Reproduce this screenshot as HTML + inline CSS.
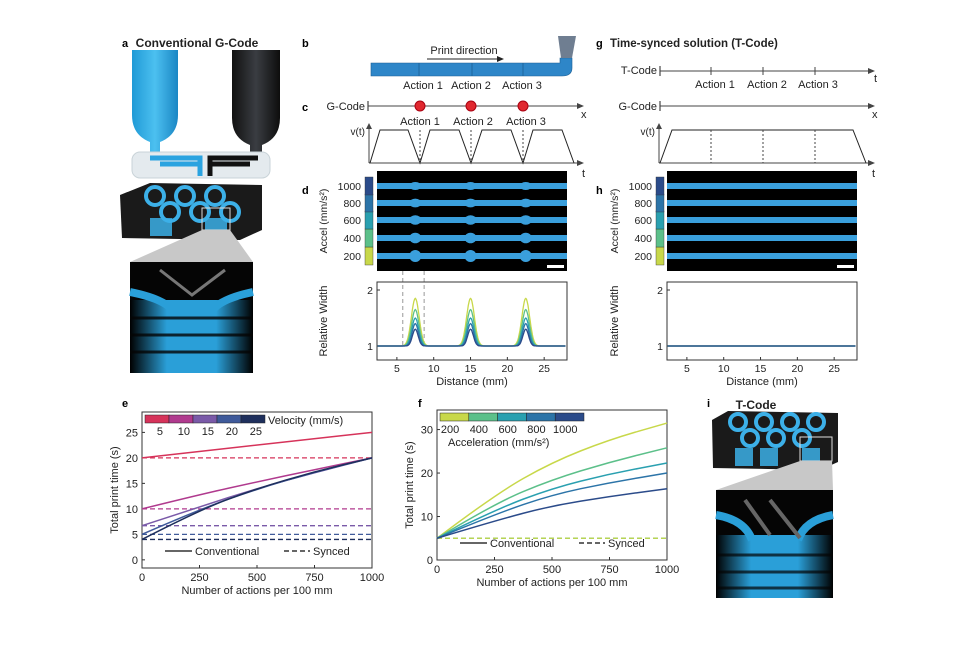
<!DOCTYPE html>
<html><head><meta charset="utf-8"><style>
html,body{margin:0;padding:0;background:#fff;}
svg{display:block;font-family:"Liberation Sans",Arial,sans-serif;}
</style></head><body>
<svg id="fig" width="980" height="654" viewBox="0 0 980 654" xmlns="http://www.w3.org/2000/svg">
<defs>
<linearGradient id="cyanG" x1="0" x2="1"><stop offset="0" stop-color="#1f9ad6"/><stop offset="0.5" stop-color="#4cc0f0"/><stop offset="1" stop-color="#1a86c4"/></linearGradient>
<linearGradient id="blkG" x1="0" x2="1"><stop offset="0" stop-color="#111"/><stop offset="0.5" stop-color="#3a3d42"/><stop offset="1" stop-color="#0d0d0d"/></linearGradient>
<linearGradient id="fadeB" x1="0" x2="1"><stop offset="0" stop-color="#000"/><stop offset="0.3" stop-color="#2a9fd8"/><stop offset="0.7" stop-color="#2a9fd8"/><stop offset="1" stop-color="#000"/></linearGradient>
</defs>

<!-- Panel a -->
<g>
<text x="122" y="47" font-size="11" font-weight="bold">a</text>
<text x="197" y="47" font-size="12" font-weight="bold" text-anchor="middle" fill="#222">Conventional G-Code</text>
<path d="M132 50 H178 V115 Q178 135 160 142 V152 H150 V142 Q132 135 132 115 Z" fill="url(#cyanG)"/>
<path d="M232 50 H280 V118 Q280 138 262 145 V155 H250 V145 Q232 138 232 118 Z" fill="url(#blkG)"/>
<rect x="132" y="152" width="138" height="26" rx="8" fill="#e4eaee" stroke="#c9d3d8"/>
<path d="M150 158 H200 V176 M160 164 H198" stroke="#2aa3e0" stroke-width="5" fill="none"/>
<path d="M258 158 H210 V176 M250 164 H212" stroke="#111" stroke-width="5" fill="none"/>
<g>
<path d="M120 195 L150 183 L262 185 L262 230 L240 240 L122 238 Z" fill="#1a1a1a"/>
<g fill="none" stroke="#3cb0e8" stroke-width="4">
<circle cx="155" cy="196" r="9"/><circle cx="185" cy="196" r="9"/><circle cx="215" cy="196" r="9"/>
<circle cx="170" cy="212" r="9"/><circle cx="200" cy="212" r="9"/><circle cx="230" cy="212" r="9"/>
</g>
<rect x="150" y="218" width="22" height="18" fill="#3cb0e8" opacity="0.85"/>
<rect x="205" y="218" width="22" height="18" fill="#3cb0e8" opacity="0.85"/>
<rect x="202" y="208" width="28" height="22" fill="none" stroke="#ddd" stroke-width="1"/>
</g>
<path d="M202 230 L130 262 H253 L230 230 Z" fill="#c8c8c8"/>
<g>
<rect x="130" y="262" width="123" height="111" fill="#050505"/>
<rect x="130" y="300" width="123" height="73" fill="url(#fadeB)"/>
<g stroke="#050505" stroke-width="3" opacity="0.8"><line x1="130" y1="318" x2="253" y2="318"/><line x1="130" y1="335" x2="253" y2="335"/><line x1="130" y1="352" x2="253" y2="352"/></g>
<path d="M130 292 Q170 300 175 315 M253 292 Q215 300 210 315" stroke="#2a9fd8" stroke-width="8" fill="none"/>
<path d="M160 270 L192 295 L225 270" stroke="#777" stroke-width="3" fill="none"/>
</g>
</g>

<!-- Panel b -->
<g>
<text x="302" y="47" font-size="11" font-weight="bold">b</text>
<text x="464" y="54" font-size="11" text-anchor="middle" fill="#222">Print direction</text>
<line x1="427" y1="59" x2="500" y2="59" stroke="#222"/><path d="M504 59 L497 56 L497 62 Z" fill="#222"/>
<path d="M371 63 H560 V58 H572 V68 Q572 76 562 76 H371 Z" fill="#2e86c8" stroke="#1c5e94" stroke-width="0.6"/>
<path d="M558 36 H576 L572 58 H561 Z" fill="#6f7e91"/>
<g stroke="#1c5e94" stroke-width="0.8"><line x1="419" y1="63" x2="419" y2="76"/><line x1="472" y1="63" x2="472" y2="76"/><line x1="523" y1="63" x2="523" y2="76"/></g>
<g font-size="11" text-anchor="middle" fill="#222"><text x="423" y="89">Action 1</text><text x="471" y="89">Action 2</text><text x="522" y="89">Action 3</text></g>
</g>

<!-- Panel c -->
<g>
<text x="302" y="111" font-size="11" font-weight="bold">c</text>
<text x="365" y="110" font-size="11" text-anchor="end" fill="#222">G-Code</text>
<line x1="368" y1="101" x2="368" y2="111" stroke="#222"/>
<line x1="368" y1="106" x2="580" y2="106" stroke="#444"/><path d="M584 106 L577 103 L577 109Z" fill="#444"/>
<text x="581" y="118" font-size="11" fill="#222">x</text>
<g fill="#e0282f" stroke="#a01"><circle cx="420" cy="106" r="5"/><circle cx="471" cy="106" r="5"/><circle cx="523" cy="106" r="5"/></g>
<g font-size="11" text-anchor="middle" fill="#222"><text x="420" y="125">Action 1</text><text x="473" y="125">Action 2</text><text x="526" y="125">Action 3</text></g>
<text x="365" y="135" font-size="10" text-anchor="end" fill="#222">v(t)</text>
<line x1="369" y1="163" x2="369" y2="126" stroke="#444"/><path d="M369 123 L366 129 L372 129Z" fill="#444"/>
<line x1="369" y1="163" x2="580" y2="163" stroke="#444"/><path d="M584 163 L577 160 L577 166Z" fill="#444"/>
<text x="582" y="177" font-size="11" fill="#222">t</text>
<path d="M370 163 L380 130 L408 130 L420 163 L430 130 L459 130 L471 163 L482 130 L511 130 L523 163 L533 130 L562 130 L574 163" stroke="#222" fill="none"/>
<g stroke="#444" stroke-dasharray="2,2"><line x1="420" y1="130" x2="420" y2="163"/><line x1="471" y1="130" x2="471" y2="163"/><line x1="523" y1="130" x2="523" y2="163"/></g>
</g>

<!-- Panel g -->
<g>
<text x="596" y="47" font-size="11" font-weight="bold">g</text>
<text x="610" y="47" font-size="11.5" font-weight="bold" fill="#222">Time-synced solution (T-Code)</text>
<text x="657" y="74" font-size="11" text-anchor="end" fill="#222">T-Code</text>
<line x1="660" y1="66" x2="660" y2="76" stroke="#222"/>
<line x1="660" y1="71" x2="871" y2="71" stroke="#444"/><path d="M875 71 L868 68 L868 74Z" fill="#444"/>
<text x="874" y="82" font-size="11" fill="#222">t</text>
<g stroke="#444"><line x1="711" y1="67" x2="711" y2="75"/><line x1="763" y1="67" x2="763" y2="75"/><line x1="815" y1="67" x2="815" y2="75"/></g>
<g font-size="11" text-anchor="middle" fill="#222"><text x="715" y="88">Action 1</text><text x="767" y="88">Action 2</text><text x="818" y="88">Action 3</text></g>
<text x="657" y="110" font-size="11" text-anchor="end" fill="#222">G-Code</text>
<line x1="660" y1="101" x2="660" y2="111" stroke="#222"/>
<line x1="660" y1="106" x2="871" y2="106" stroke="#444"/><path d="M875 106 L868 103 L868 109Z" fill="#444"/>
<text x="872" y="118" font-size="11" fill="#222">x</text>
<text x="655" y="135" font-size="10" text-anchor="end" fill="#222">v(t)</text>
<line x1="659" y1="163" x2="659" y2="126" stroke="#444"/><path d="M659 123 L656 129 L662 129Z" fill="#444"/>
<line x1="659" y1="163" x2="871" y2="163" stroke="#444"/><path d="M875 163 L868 160 L868 166Z" fill="#444"/>
<text x="872" y="177" font-size="11" fill="#222">t</text>
<path d="M660 163 L672 130 L853 130 L866 163" stroke="#222" fill="none"/>
<g stroke="#444" stroke-dasharray="2,2"><line x1="711" y1="130" x2="711" y2="163"/><line x1="763" y1="130" x2="763" y2="163"/><line x1="815" y1="130" x2="815" y2="163"/></g>
</g>

<text x="302" y="194" font-size="11" font-weight="bold">d</text>
<text x="596" y="194" font-size="11" font-weight="bold">h</text>
<g id="panelD"></g>
<g id="panelH"></g>

<!-- Panel i -->
<g>
<text x="707" y="407" font-size="11" font-weight="bold">i</text>
<text x="756" y="409" font-size="12" font-weight="bold" text-anchor="middle" fill="#222">T-Code</text>
<path d="M712 420 L728 411 L838 413 L838 462 L820 470 L713 468 Z" fill="#1a1a1a"/>
<g fill="none" stroke="#3cb0e8" stroke-width="4">
<circle cx="738" cy="422" r="8"/><circle cx="764" cy="422" r="8"/><circle cx="790" cy="422" r="8"/><circle cx="816" cy="422" r="8"/>
<circle cx="750" cy="438" r="8"/><circle cx="776" cy="438" r="8"/><circle cx="802" cy="438" r="8"/>
</g>
<rect x="735" y="448" width="18" height="18" fill="#3cb0e8" opacity="0.85"/>
<rect x="760" y="448" width="18" height="18" fill="#3cb0e8" opacity="0.85"/>
<rect x="802" y="448" width="18" height="18" fill="#3cb0e8" opacity="0.85"/>
<rect x="800" y="437" width="32" height="24" fill="none" stroke="#ddd"/>
<path d="M800 461 L716 490 H833 L832 461Z" fill="#c8c8c8"/>
<rect x="716" y="490" width="117" height="108" fill="#050505"/>
<rect x="716" y="535" width="117" height="63" fill="url(#fadeB)"/>
<g stroke="#050505" stroke-width="3" opacity="0.7"><line x1="716" y1="555" x2="833" y2="555"/><line x1="716" y1="572" x2="833" y2="572"/><line x1="716" y1="588" x2="833" y2="588"/></g>
<path d="M716 515 Q745 520 752 540 M833 515 Q805 520 798 540" stroke="#2a9fd8" stroke-width="8" fill="none"/>
<path d="M745 500 L770 535 M770 500 L800 538" stroke="#666" stroke-width="4" fill="none"/>
</g>

<text x="122" y="407" font-size="11" font-weight="bold">e</text>
<text x="418" y="407" font-size="11" font-weight="bold">f</text>
<g id="panelE"></g>
<g id="panelF"></g>
</svg>
<script>
// ---- data ----
const accelLevels = [200, 400, 600, 800, 1000];
const accelColors = ["#c8d84a", "#5cc08a", "#2aa0b0", "#2c74a8", "#2b4b8a"];
const peakHeights = [1.85, 1.65, 1.5, 1.4, 1.3];
const peakPositions = [7.5, 15, 22.5];
const distTicks = [5, 10, 15, 20, 25];
const widthTicks = [1, 2];

const velocities = [5, 10, 15, 20, 25];
const velColors = ["#d6335a", "#b03a8e", "#7a5aa8", "#3f5a9a", "#1e2f5c"];
const actionsX = [0, 250, 500, 750, 1000];
const velConvE = [[20, 21.3, 22.5, 23.8, 25], [10, 12.8, 15.3, 17.7, 20], [6.7, 10.4, 14, 17.1, 20], [5, 9.9, 13.9, 17.2, 20], [4, 9.8, 14, 17.3, 20]];
const velSynced = [20, 10, 6.7, 5, 4];
const eTicksX = [0, 250, 500, 750, 1000];
const eTicksY = [0, 5, 10, 15, 20, 25];

const accConvF = [[5, 15, 22.5, 27.7, 31.5], [5, 13, 18.5, 22.5, 25.8], [5, 11.5, 16.5, 19.8, 22.3], [5, 10.5, 15, 17.8, 20], [5, 9, 12.5, 14.6, 16.4]];
const accSynced = [5, 5, 5, 5, 5];
const fTicksY = [0, 10, 20, 30];

const NS = "http://www.w3.org/2000/svg";
function mk(parent, tag, attrs, text) {
  const el = document.createElementNS(NS, tag);
  for (const k in attrs) el.setAttribute(k, attrs[k]);
  if (text !== undefined) el.textContent = text;
  parent.appendChild(el);
  return el;
}
function lin(d0, d1, r0, r1) { return v => r0 + (v - d0) * (r1 - r0) / (d1 - d0); }

// ---- panels d & h ----
function stripPanel(gid, x0, cbx, withPeaks) {
  const g = document.getElementById(gid);
  const imgW = 190;
  const strandY = [256, 238, 220, 203, 186];
  accelLevels.forEach((a, i) => {
    const r = mk(g, "rect", {x: cbx, y: strandY[i] - 9, width: 8, height: 18, fill: accelColors[i], stroke: "#333", "stroke-width": 0.4});
    
    
    mk(g, "text", {x: cbx - 4, y: strandY[i] + 4, "font-size": 10.5, "text-anchor": "end", fill: "#222"}, String(a));
  });
  mk(g, "text", {transform: `translate(${cbx - 38},221) rotate(-90)`, "font-size": 10.5, "text-anchor": "middle", fill: "#222"}, "Accel (mm/s²)");
  const img = mk(g, "rect", {x: x0, y: 171, width: imgW, height: 100, fill: "#000"});
  
  
  const xs = lin(2.3, 28.1, x0, x0 + imgW);
  accelLevels.forEach((a, i) => {
    const s = mk(g, "rect", {x: x0, y: strandY[i] - 3, width: imgW, height: 6, fill: "#3a9fdc"});
    
    
    if (withPeaks) peakPositions.forEach(p => {
      const ry = 3 + (peakHeights[i] - 1) * 3.5;
      mk(g, "ellipse", {cx: xs(p), cy: strandY[i], rx: 6, ry: ry, fill: "#3a9fdc"});
    });
  });
  mk(g, "rect", {x: x0 + imgW - 20, y: 265, width: 17, height: 3, fill: "#fff"});
  if (withPeaks) {
    mk(g, "line", {x1: xs(5.8), y1: 271, x2: xs(5.8), y2: 345, stroke: "#999", "stroke-dasharray": "4,3"});
    mk(g, "line", {x1: xs(8.7), y1: 271, x2: xs(8.7), y2: 345, stroke: "#999", "stroke-dasharray": "4,3"});
  }
  const py = lin(1, 2, 346, 290);
  mk(g, "rect", {x: x0, y: 282, width: imgW, height: 78, fill: "none", stroke: "#333"});
  distTicks.forEach(t => {
    mk(g, "line", {x1: xs(t), y1: 360, x2: xs(t), y2: 357, stroke: "#333"});
    mk(g, "text", {x: xs(t), y: 372, "font-size": 10.5, "text-anchor": "middle", fill: "#222"}, String(t));
  });
  widthTicks.forEach(t => {
    mk(g, "line", {x1: x0, y1: py(t), x2: x0 + 3, y2: py(t), stroke: "#333"});
    mk(g, "text", {x: x0 - 4, y: py(t) + 4, "font-size": 10.5, "text-anchor": "end", fill: "#222"}, String(t));
  });
  mk(g, "text", {x: x0 + imgW / 2, y: 385, "font-size": 11, "text-anchor": "middle", fill: "#222"}, "Distance (mm)");
  mk(g, "text", {transform: `translate(${cbx - 38},321) rotate(-90)`, "font-size": 11, "text-anchor": "middle", fill: "#222"}, "Relative Width");
  accelLevels.forEach((a, i) => {
    let d = "";
    for (let x = 2.4; x <= 28; x += 0.1) {
      let v = 1;
      if (withPeaks) peakPositions.forEach(p => { v += (peakHeights[i] - 1) * Math.exp(-Math.pow((x - p) / (0.55 + 0.05 * (4 - i)), 2)); });
      d += (d ? "L" : "M") + xs(x).toFixed(1) + " " + py(v).toFixed(1);
    }
    const l = mk(g, "path", {d: d, fill: "none", stroke: accelColors[i], "stroke-width": 1.3});
    
    
  });
}
stripPanel("panelD", 377, 365, true);
stripPanel("panelH", 667, 656, false);

// ---- line charts ----
function lineChart(gid, box, ymin, ymax, yTicks, conv, synced, colors, cbLabels, cbTitle, titleBelow, reverseSynced) {
  const g = document.getElementById(gid);
  const xs = lin(0, 1000, box.l, box.r);
  const ys = lin(ymin, ymax, box.b, box.t);
  mk(g, "rect", {x: box.l, y: box.t, width: box.r - box.l, height: box.b - box.t, fill: "none", stroke: "#333"});
  eTicksX.forEach(t => {
    mk(g, "line", {x1: xs(t), y1: box.b, x2: xs(t), y2: box.b - 3, stroke: "#333"});
    mk(g, "text", {x: xs(t), y: box.b + 13, "font-size": 11, "text-anchor": "middle", fill: "#222"}, String(t));
  });
  yTicks.forEach(t => {
    mk(g, "line", {x1: box.l, y1: ys(t), x2: box.l + 3, y2: ys(t), stroke: "#333"});
    mk(g, "text", {x: box.l - 4, y: ys(t) + 4, "font-size": 11, "text-anchor": "end", fill: "#222"}, String(t));
  });
  mk(g, "text", {x: (box.l + box.r) / 2, y: box.b + 26, "font-size": 11, "text-anchor": "middle", fill: "#222"}, "Number of actions per 100 mm");
  mk(g, "text", {transform: `translate(${box.l - 24},${(box.t + box.b) / 2}) rotate(-90)`, "font-size": 11, "text-anchor": "middle", fill: "#222"}, "Total print time (s)");
  const order = synced.map((v, i) => i);
  if (reverseSynced) order.reverse();
  order.forEach(i => {
    const v = synced[i];
    const l = mk(g, "line", {x1: box.l, y1: ys(v), x2: box.r, y2: ys(v), stroke: colors[i], "stroke-width": 1.3, "stroke-dasharray": "5,3"});
    
    
  });
  conv.forEach((arr, i) => {
    const pts = arr.map((v, j) => [xs(actionsX[j]), ys(v)]);
    let d = "M" + pts[0][0] + " " + pts[0][1];
    for (let j = 1; j < pts.length - 1; j++) {
      const mx = (pts[j][0] + pts[j + 1][0]) / 2, my = (pts[j][1] + pts[j + 1][1]) / 2;
      d += ` Q${pts[j][0]} ${pts[j][1]} ${mx} ${my}`;
    }
    d += ` L${pts[pts.length - 1][0]} ${pts[pts.length - 1][1]}`;
    const l = mk(g, "path", {d: d, fill: "none", stroke: colors[i], "stroke-width": 1.5});
    
    
  });
  const cw = box.cbw / colors.length;
  colors.forEach((c, i) => {
    const r = mk(g, "rect", {x: box.l + 3 + i * cw, y: box.t + 3, width: cw, height: 8, fill: c, stroke: "#222", "stroke-width": 0.5});
    
    
    mk(g, "text", {x: box.l + 3 + i * cw + cw * box.lblAt, y: box.t + 23, "font-size": 11, "text-anchor": "middle", fill: "#222"}, String(cbLabels[i]));
  });
  if (titleBelow) mk(g, "text", {x: box.l + 11, y: box.t + 36, "font-size": 11, fill: "#222"}, cbTitle);
  else mk(g, "text", {x: box.l + 6 + box.cbw, y: box.t + 12, "font-size": 11, fill: "#222"}, cbTitle);
  const ly = box.b - 17;
  mk(g, "line", {x1: box.l + 23, y1: ly, x2: box.l + 50, y2: ly, stroke: "#333", "stroke-width": 1.5});
  mk(g, "text", {x: box.l + 53, y: ly + 4, "font-size": 11, fill: "#222"}, "Conventional");
  mk(g, "line", {x1: box.l + 142, y1: ly, x2: box.l + 168, y2: ly, stroke: "#333", "stroke-width": 1.5, "stroke-dasharray": "5,3"});
  mk(g, "text", {x: box.l + 171, y: ly + 4, "font-size": 11, fill: "#222"}, "Synced");
}
lineChart("panelE", {l: 142, r: 372, t: 412, b: 568, cbw: 120, lblAt: 0.62}, -1.6, 29, eTicksY, velConvE, velSynced, velColors, velocities, "Velocity (mm/s)", false, false);
lineChart("panelF", {l: 437, r: 667, t: 410, b: 560, cbw: 144, lblAt: 0.35}, 0, 34.5, fTicksY, accConvF, accSynced, accelColors, accelLevels, "Acceleration (mm/s²)", true, true);
</script>
</body></html>
